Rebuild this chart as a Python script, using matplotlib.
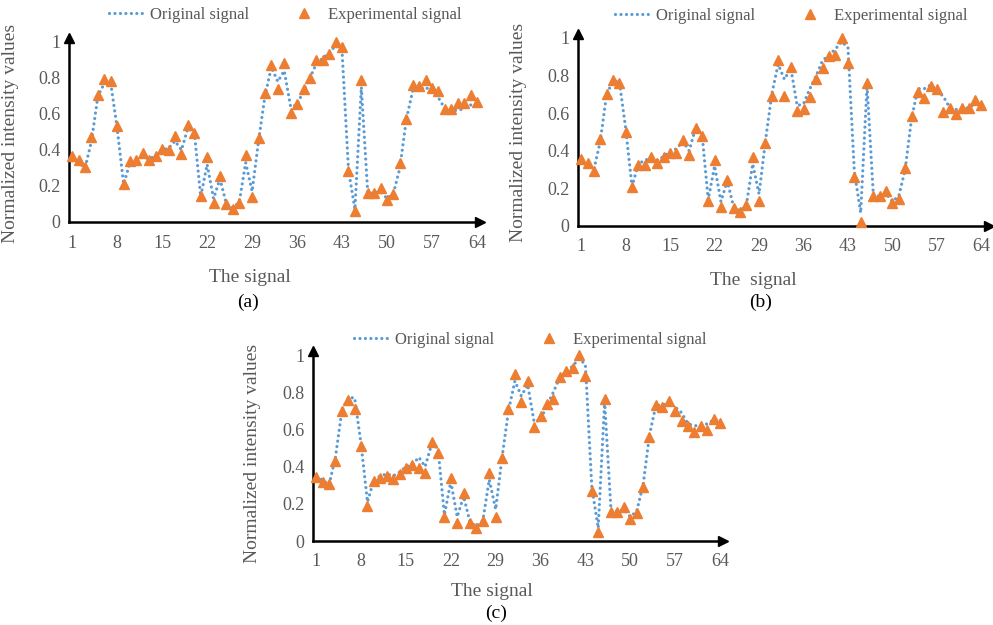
import matplotlib
matplotlib.use('Agg')
from matplotlib import pyplot as plt
from matplotlib.lines import Line2D
import numpy as np

plt.rcParams['font.family'] = ['Liberation Serif', 'DejaVu Serif']

# signal index
idx = np.arange(1, 65)
xticks = [1, 8, 15, 22, 29, 36, 43, 50, 57, 64]
yticks = [0, 0.2, 0.4, 0.6, 0.8, 1]
ytick_labels = ['0', '0.2', '0.4', '0.6', '0.8', '1']

# original signal (same in all three panels)
original = [0.34, 0.33, 0.30, 0.45, 0.70, 0.77, 0.77, 0.52, 0.21, 0.33,
            0.35, 0.36, 0.35, 0.37, 0.40, 0.41, 0.45, 0.40, 0.52, 0.50,
            0.14, 0.32, 0.13, 0.24, 0.10, 0.08, 0.11, 0.33, 0.17, 0.45,
            0.70, 0.86, 0.78, 0.84, 0.64, 0.65, 0.73, 0.80, 0.88, 0.91,
            0.94, 0.98, 0.95, 0.29, 0.07, 0.75, 0.16, 0.16, 0.17, 0.13,
            0.16, 0.30, 0.57, 0.73, 0.73, 0.75, 0.72, 0.69, 0.63, 0.62,
            0.62, 0.63, 0.65, 0.65]

# experimental signal, panel (a)
exp_a = [0.365, 0.343, 0.306, 0.472, 0.706, 0.796, 0.781, 0.531, 0.209, 0.337,
         0.346, 0.383, 0.346, 0.365, 0.407, 0.402, 0.476, 0.380, 0.541, 0.494,
         0.143, 0.361, 0.106, 0.254, 0.102, 0.070, 0.106, 0.374, 0.137, 0.467,
         0.717, 0.874, 0.741, 0.883, 0.606, 0.657, 0.741, 0.802, 0.902, 0.898,
         0.935, 1.000, 0.972, 0.281, 0.059, 0.787, 0.161, 0.161, 0.189, 0.120,
         0.157, 0.328, 0.574, 0.763, 0.756, 0.787, 0.744, 0.726, 0.630, 0.630,
         0.661, 0.661, 0.704, 0.667]

# experimental signal, panel (b)
exp_b = [0.354, 0.333, 0.294, 0.464, 0.704, 0.779, 0.763, 0.499, 0.205, 0.326,
         0.326, 0.368, 0.336, 0.368, 0.389, 0.389, 0.457, 0.377, 0.522, 0.478,
         0.135, 0.349, 0.103, 0.244, 0.094, 0.074, 0.113, 0.365, 0.135, 0.442,
         0.690, 0.881, 0.690, 0.846, 0.612, 0.623, 0.685, 0.782, 0.842, 0.906,
         0.912, 1.000, 0.867, 0.260, 0.021, 0.761, 0.159, 0.159, 0.186, 0.124,
         0.145, 0.310, 0.584, 0.715, 0.680, 0.743, 0.727, 0.607, 0.630, 0.598,
         0.630, 0.628, 0.669, 0.644]

# experimental signal, panel (c)
exp_c = [0.346, 0.317, 0.305, 0.430, 0.701, 0.758, 0.708, 0.513, 0.190, 0.321,
         0.339, 0.348, 0.335, 0.358, 0.391, 0.409, 0.391, 0.367, 0.532, 0.473,
         0.127, 0.341, 0.097, 0.256, 0.097, 0.068, 0.109, 0.367, 0.131, 0.448,
         0.710, 0.896, 0.747, 0.862, 0.615, 0.672, 0.735, 0.765, 0.884, 0.916,
         0.928, 1.000, 0.889, 0.269, 0.048, 0.765, 0.154, 0.154, 0.185, 0.116,
         0.152, 0.292, 0.557, 0.731, 0.722, 0.753, 0.701, 0.647, 0.618, 0.588,
         0.618, 0.599, 0.654, 0.633]

blue = '#5B9BD5'
orange = '#ED7D31'
grey = '#595959'
dots = (0, (0.01, 1.7))
lw = 2.3

fig = plt.figure(figsize=(9.93, 6.25), dpi=100, facecolor='w')


def draw_panel(rect, exp_vals, xlabel, caption, cap_xy, leg_xy, xlab_xy, ylab_xy, xmax):
    ax = fig.add_axes(rect)
    ax.plot(idx, original, linestyle=dots, color=blue, linewidth=lw,
            dash_capstyle='round', zorder=2)
    ax.plot(idx, exp_vals, linestyle='none', marker='^', markersize=7.5,
            color=orange, zorder=3, clip_on=False)
    ax.set_xlim(0.5, xmax)
    ax.set_ylim(0, 1.0)
    for s in ['top', 'right']:
        ax.spines[s].set_visible(False)
    for s in ['left', 'bottom']:
        ax.spines[s].set_linewidth(1.8)
        ax.spines[s].set_color('k')
    ax.plot(1, 0, '>', color='k', markersize=7, transform=ax.transAxes, clip_on=False)
    ax.plot(0, 1.02, '^', color='k', markersize=7, transform=ax.transAxes, clip_on=False)
    ax.set_xticks(xticks)
    ax.set_yticks(yticks)
    ax.set_yticklabels(ytick_labels)
    ax.tick_params(length=0, labelsize=13, labelcolor=grey)
    ax.tick_params(axis='x', pad=9)
    ax.tick_params(axis='y', pad=6)
    ax.set_xlabel(xlabel, fontsize=14, color=grey)
    ax.xaxis.set_label_coords(*xlab_xy)
    ax.set_ylabel('Normalized intensity values', fontsize=14, color=grey)
    ax.yaxis.set_label_coords(*ylab_xy)
    fig.text(cap_xy[0] / 993, 1 - cap_xy[1] / 625, caption, fontsize=14,
             ha='center', va='center', color='k')
    handles = [Line2D([], [], linestyle=dots, color=blue, linewidth=lw,
                      dash_capstyle='round'),
               Line2D([], [], linestyle='none', marker='^', markersize=7.5, color=orange)]
    fig.legend(handles, ['Original signal', 'Experimental signal'], ncol=2,
               loc='center', bbox_to_anchor=(leg_xy[0] / 993, 1 - leg_xy[1] / 625),
               frameon=False, fontsize=12, labelcolor=grey, handlelength=2.2,
               handletextpad=0.3, columnspacing=2.2, borderpad=0)
    return ax


draw_panel([69 / 993, 1 - 222 / 625, 411 / 993, 180 / 625], exp_a, 'The signal', '(a)',
           (248, 302), (285, 15), (0.44, -0.26), (-0.122, 0.49), 64.47)
draw_panel([578 / 993, 1 - 226 / 625, 411 / 993, 188 / 625], exp_b, 'The  signal', '(b)',
           (761, 302), (791, 16), (0.426, -0.245), (-0.124, 0.5), 65.2)
draw_panel([313 / 993, 1 - 541 / 625, 410 / 993, 186 / 625], exp_c, 'The signal', '(c)',
           (496, 613), (530, 340), (0.437, -0.225), (-0.127, 0.47), 64.47)

plt.savefig('out.png', dpi=100)
